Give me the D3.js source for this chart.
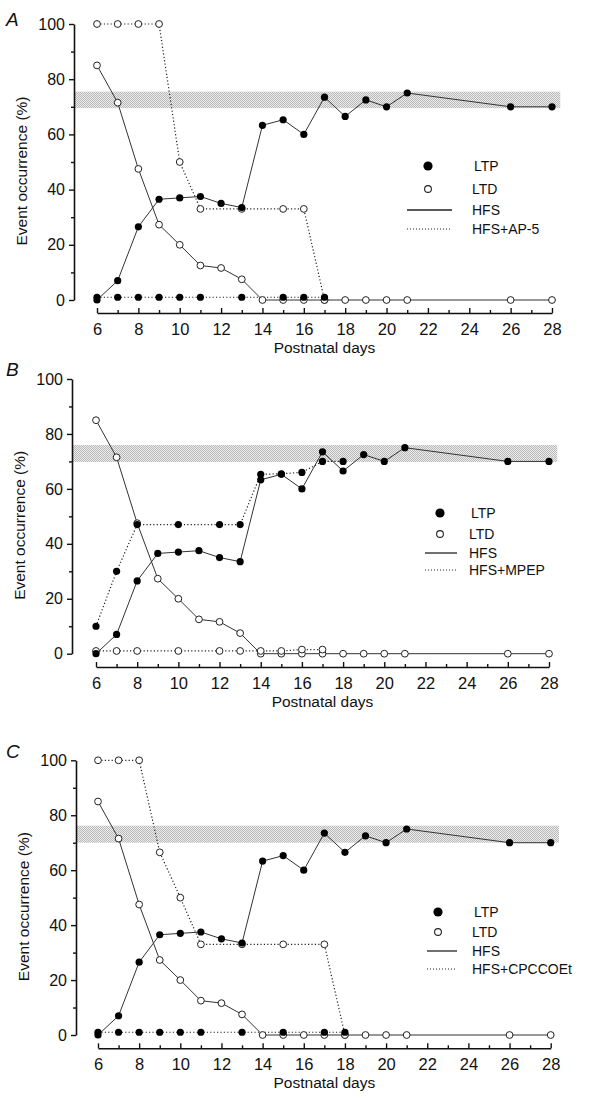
<!DOCTYPE html>
<html><head><meta charset="utf-8">
<script src="https://cdn.jsdelivr.net/npm/d3@7"></script>
<style>body{margin:0;background:#fff}svg{display:block}text{font-family:"Liberation Sans",Arial,sans-serif;fill:#111}</style>
</head><body><svg id="c" width="591" height="1106"></svg>
<script>
const hfsDays = [6,7,8,9,10,11,12,13,14,15,16,17,18,19,20,21,26,28];
const hfsLTP = [0,7,26.5,36.5,37,37.5,35,33.5,63.3,65.3,60,73.5,66.5,72.5,70,75,70,70];
const hfsLTD = [85,71.5,47.5,27.3,20,12.5,11.6,7.5,0,0,0,0,0,0,0,0,0,0];

const ap5Days = [6,7,8,9,10,11,13,15,16,17];
const ap5LTP = [1,1,1,1,1,1,1,1,1,1];
const ap5LTD = [100,100,100,100,50,33,33,33,33,0];

const mpepLTPDays = [6,7,8,10,12,13,14,15,16,17,18];
const mpepLTP = [10,30,47,47,47,47,65.3,65.5,66,70,70];
const mpepLTDDays = [6,7,8,10,12,13,14,15,16,17];
const mpepLTD = [1,1,1,1,1,1,1,1,1.5,1.5];

const cpDays = [6,7,8,9,10,11,13,15,17,18];
const cpLTP = [1,1,1,1,1,1,1,1,1,1];
const cpLTD = [100,100,100,66.5,50,33,33,33,33,0];

const panelLetters = ["A","B","C"];
const drugNames = ["HFS+AP-5","HFS+MPEP","HFS+CPCCOEt"];
const bandLow = [69.5,69.8,70];
const bandHigh = [75.5,76,76.2];
const yTicks = [0,20,40,60,80,100];
const xTicks = [6,8,10,12,14,16,18,20,22,24,26,28];

const svg = d3.select("#c");
const defs = svg.append("defs");
const pat = defs.append("pattern").attr("id","hatch").attr("width",2).attr("height",2).attr("patternUnits","userSpaceOnUse");
pat.append("rect").attr("width",2).attr("height",2).attr("fill","#ececec");
pat.append("rect").attr("width",1).attr("height",1).attr("fill","#b9b9b9");
pat.append("rect").attr("x",1).attr("y",1).attr("width",1).attr("height",1).attr("fill","#b9b9b9");

const layouts = [
  {ax:74, y0:300, y1:24, x0:97, x1:552, xa:313, letterY:26, leg:{cx:428, tx:472, y:[166,189,210,229], lx:[407,452]}},
  {ax:72, y0:653.7, y1:379, x0:96, x1:549, xa:667, letterY:376, leg:{cx:440, tx:469, y:[513,534,553,570], lx:[425,457]}},
  {ax:76, y0:1035, y1:760.3, x0:98, x1:550.7, xa:1048.3, letterY:758, leg:{cx:438, tx:472, y:[912,932,951,969], lx:[427,457]}}
];

const drugSets = [
  {ltpDays:ap5Days, ltp:ap5LTP, ltdDays:ap5Days, ltd:ap5LTD},
  {ltpDays:mpepLTPDays, ltp:mpepLTP, ltdDays:mpepLTDDays, ltd:mpepLTD},
  {ltpDays:cpDays, ltp:cpLTP, ltdDays:cpDays, ltd:cpLTD}
];

layouts.forEach((L,i)=>{
  const g = svg.append("g");
  const x = d3.scaleLinear().domain([6,28]).range([L.x0,L.x1]);
  const y = d3.scaleLinear().domain([0,100]).range([L.y0,L.y1]);

  // band
  g.append("rect").attr("x",L.ax).attr("y",y(bandHigh[i]))
    .attr("width",x(28.4)-L.ax).attr("height",y(bandLow[i])-y(bandHigh[i]))
    .attr("fill","url(#hatch)");

  // y axis
  const yAx = g.append("g").attr("transform",`translate(${L.ax},0)`)
    .call(d3.axisLeft(y).tickValues(d3.range(0,101,10)).tickSize(0).tickFormat(""));
  yAx.select(".domain").attr("stroke","#111").attr("stroke-width",1.6);
  yAx.selectAll(".tick line").remove();
  yAx.selectAll(".tick").append("line").attr("x1",d=>d%20===0?-5:-3).attr("x2",0).attr("stroke","#111").attr("stroke-width",1.4);
  const yLab = g.append("g").attr("transform",`translate(${L.ax},0)`)
    .call(d3.axisLeft(y).tickValues(yTicks).tickSize(0).tickPadding(9));
  yLab.select(".domain").remove();
  yLab.selectAll("text").attr("font-size",16).attr("font-family","Liberation Sans, Arial, sans-serif").attr("fill","#111");

  // x axis
  const xAx = g.append("g").attr("transform",`translate(0,${L.xa})`)
    .call(d3.axisBottom(x).tickValues(d3.range(6,29,1)).tickSize(0).tickFormat(""));
  xAx.select(".domain").attr("stroke","#111").attr("stroke-width",1.6);
  xAx.selectAll(".tick").append("line").attr("y1",d=>d%2===0?-5:-3).attr("y2",0).attr("stroke","#111").attr("stroke-width",1.4);
  const xLab = g.append("g").attr("transform",`translate(0,${L.xa})`)
    .call(d3.axisBottom(x).tickValues(xTicks).tickSize(0).tickPadding(10));
  xLab.select(".domain").remove();
  xLab.selectAll("text").attr("font-size",16.5).attr("font-family","Liberation Sans, Arial, sans-serif").attr("fill","#111");

  // titles
  g.append("text").attr("x",(L.x0+L.x1)/2).attr("y",L.xa+40).attr("text-anchor","middle")
    .attr("font-size",15.5).text("Postnatal days");
  g.append("text").attr("transform",`translate(${L.ax-47},${(L.y0+L.y1)/2+9}) rotate(-90)`)
    .attr("text-anchor","middle").attr("font-size",15.5).text("Event occurrence (%)");
  g.append("text").attr("x",6).attr("y",L.letterY).attr("font-size",19).attr("font-style","italic").text(panelLetters[i]);

  const solid = d3.line().x(d=>x(d[0])).y(d=>y(d[1]));
  const D = drugSets[i];
  const hLTP = hfsDays.map((d,k)=>[d,hfsLTP[k]]);
  const hLTD = hfsDays.map((d,k)=>[d,hfsLTD[k]]);
  const dLTP = D.ltpDays.map((d,k)=>[d,D.ltp[k]]);
  const dLTD = D.ltdDays.map((d,k)=>[d,D.ltd[k]]);

  [dLTP,dLTD].forEach(s=>g.append("path").attr("d",solid(s)).attr("fill","none")
    .attr("stroke","#222").attr("stroke-width",1.2).attr("stroke-dasharray","1.2,2.2"));
  [hLTP,hLTD].forEach(s=>g.append("path").attr("d",solid(s)).attr("fill","none")
    .attr("stroke","#333").attr("stroke-width",1));

  const open = (s)=>g.append("g").selectAll("circle").data(s).join("circle")
    .attr("cx",d=>x(d[0])).attr("cy",d=>y(d[1])).attr("r",3.4)
    .attr("fill","#fff").attr("stroke","#222").attr("stroke-width",1);
  const filled = (s)=>g.append("g").selectAll("circle").data(s).join("circle")
    .attr("cx",d=>x(d[0])).attr("cy",d=>y(d[1])).attr("r",3.6).attr("fill","#000");
  open(hLTD); open(dLTD); filled(hLTP); filled(dLTP);

  // legend
  const lg = L.leg;
  g.append("circle").attr("cx",lg.cx).attr("cy",lg.y[0]).attr("r",4.6).attr("fill","#000");
  g.append("circle").attr("cx",lg.cx).attr("cy",lg.y[1]).attr("r",3.4).attr("fill","#fff").attr("stroke","#222").attr("stroke-width",1.1);
  g.append("line").attr("x1",lg.lx[0]).attr("x2",lg.lx[1]).attr("y1",lg.y[2]).attr("y2",lg.y[2]).attr("stroke","#222").attr("stroke-width",1.3);
  g.append("line").attr("x1",lg.lx[0]).attr("x2",lg.lx[1]).attr("y1",lg.y[3]).attr("y2",lg.y[3]).attr("stroke","#222").attr("stroke-width",1).attr("stroke-dasharray","1,2");
  const labels = ["LTP","LTD","HFS",drugNames[i]];
  labels.forEach((t,k)=>g.append("text").attr("x",lg.tx + (k===0?2:0)).attr("y",lg.y[k]+5).attr("font-size",14).text(t));
});
</script></body></html>
